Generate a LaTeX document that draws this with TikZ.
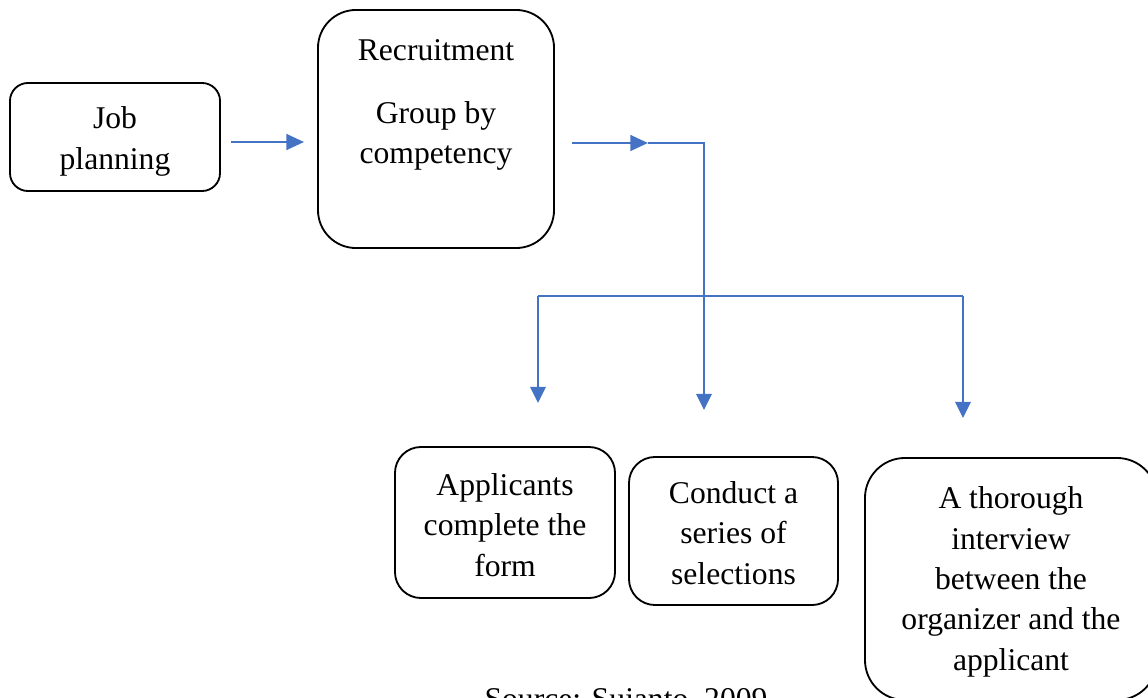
\documentclass[tikz,border=0pt]{standalone}
\usepackage{fontspec}
\setmainfont{Liberation Serif}
\usetikzlibrary{arrows.meta}
\definecolor{flowblue}{HTML}{4472C4}

\begin{document}
\begin{tikzpicture}[x=0.025cm, y=-0.025cm,
    stepbox/.style={draw, rectangle, line width=1.3pt, inner sep=0pt},
    steptext/.style={align=center, inner sep=0pt, font=\fontsize{22.5}{28.7}\selectfont},
    flow/.style={-{Triangle[length=12.5pt, width=11pt]}, draw=flowblue, line width=2pt},
    drop/.style={-{Triangle[length=11.5pt, width=11pt]}, draw=flowblue, line width=1.5pt},
    link/.style={draw=flowblue, line width=1pt}]
    \useasboundingbox (0,0) rectangle (1148,697);
    \clip (0,0) rectangle (1148,697);

    % boxes
    \node (job) [stepbox, rounded corners=0.45cm, minimum width=5.25cm, minimum height=2.7cm] at (115,137) {};
    \node (recruit) [stepbox, rounded corners=0.95cm, minimum width=5.9cm, minimum height=5.95cm] at (436,129) {};
    \node (apply) [stepbox, rounded corners=0.65cm, minimum width=5.5cm, minimum height=3.775cm] at (505,522.5) {};
    \node (conduct) [stepbox, rounded corners=0.65cm, minimum width=5.225cm, minimum height=3.7cm] at (733.5,531) {};
    \node (interview) [stepbox, rounded corners=1cm, minimum width=7.3cm, minimum height=6.05cm] at (1011,579) {};

    % texts
    \node (joblbl) [steptext] at (115,141.5) {Job\\planning};
    \node (recruitlbl) [steptext] at (436,105) {Recruitment\\[0.55cm]Group by\\competency};
    \node (applylbl) [steptext] at (505,525) {Applicants\\complete the\\form};
    \node (conductlbl) [steptext] at (733.5,533) {Conduct a\\series of\\selections};
    \node (interviewlbl) [steptext] at (1011,582) {A thorough\\interview\\between the\\organizer and the\\applicant};
    \node (source) [steptext, anchor=base] at (626,709) {Source: Sujanto, 2009};

    % branching points
    \coordinate (joint) at (648,143);
    \coordinate (turn) at (704,143);
    \coordinate (fork) at (704,296);
    \coordinate (forkL) at (538,296);
    \coordinate (forkR) at (963,296);
    \coordinate (tipA) at (538,403);
    \coordinate (tipB) at (704,410);
    \coordinate (tipC) at (963,418);

    \draw[flow] ([shift={(10,5)}]job.east) -- ([shift={(-13,13)}]recruit.west);
    \draw[flow] ([shift={(17,14)}]recruit.east) -- (joint);
    \draw[link] (joint) -- (turn) -- (fork);
    \draw[link] (forkL) -- (forkR);
    \draw[drop] (forkL) -- (tipA);
    \draw[drop] (fork) -- (tipB);
    \draw[drop] (forkR) -- (tipC);
\end{tikzpicture}
\end{document}
